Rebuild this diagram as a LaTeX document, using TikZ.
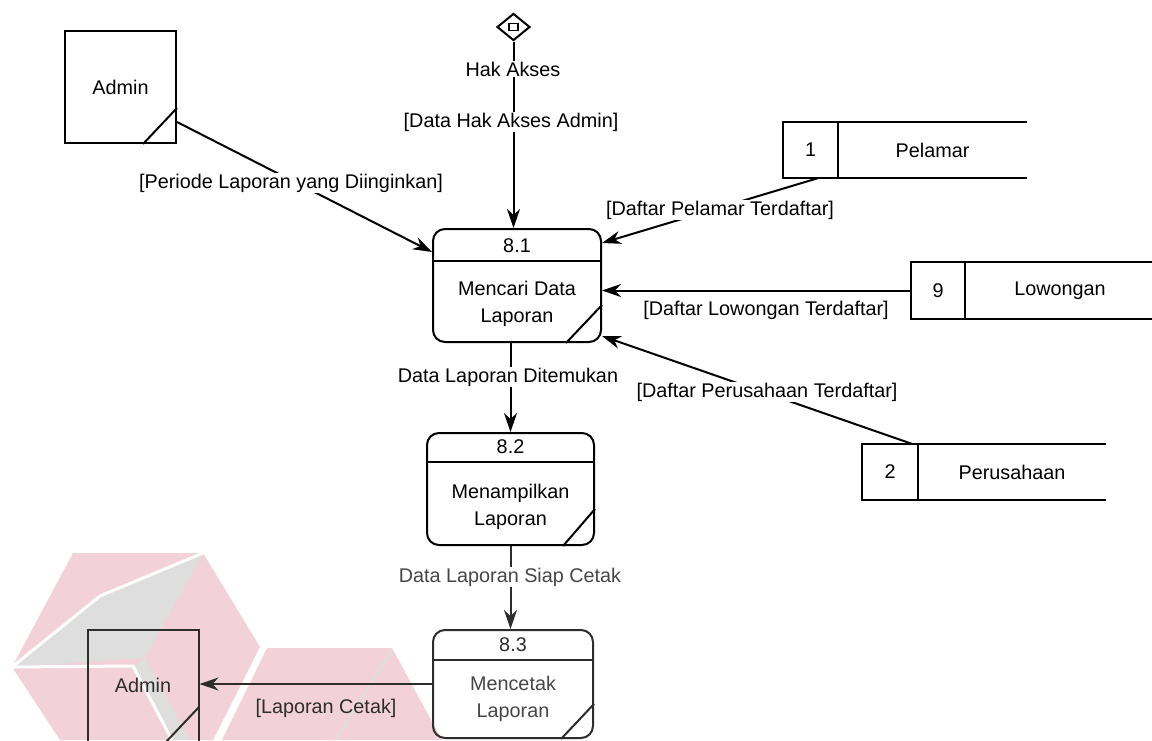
\documentclass[tikz,border=0pt]{standalone}
\usepackage{fontspec}
\setmainfont{Liberation Sans}
\usetikzlibrary{shapes.geometric,arrows.meta,calc}
\definecolor{wmpink}{RGB}{242,210,216}
\definecolor{wmgray}{RGB}{222,222,222}
\definecolor{cdark}{RGB}{45,45,45}
\definecolor{ctext}{RGB}{70,70,70}
\begin{document}
\begin{tikzpicture}[x=1pt,y=-1pt,
  every node/.style={font=\fontsize{19.8}{27}\selectfont},
  ln/.style={line width=2pt},
  flow/.style={line width=2pt,-{Stealth[length=19pt,width=13pt,inset=6pt]}},
  lbl/.style={fill=white,inner sep=1pt},
  lblclear/.style={inner sep=1pt},
  proc/.style={draw,line width=2pt,rounded corners=12pt,inner sep=0pt},
  ent/.style={draw,line width=2pt,inner sep=0pt,minimum width=111pt,minimum height=112pt},
  store/.style={inner sep=0pt,minimum width=244pt,minimum height=56pt},
]
\clip (0,0) rectangle (1152,740);
\fill[white] (0,0) rectangle (1152,740);

% watermark
\fill[wmpink] (73,553) -- (203,553) -- (260,647) -- (213,740) -- (60,740) -- (12,667) -- cycle;
\fill[wmgray] (12,667) -- (100,598) -- (203,553) -- (145,658) -- cycle;
\fill[wmgray] (133,666) -- (145,658) -- (190,740) -- (172,740) -- cycle;
\draw[white,line width=3pt] (12,667) -- (100,596) -- (203,553);
\draw[white,line width=3pt] (12,667) -- (133,666) -- (172,740);
\fill[wmpink] (267,648) -- (392,648) -- (442,740) -- (222,740) -- cycle;
\draw[wmgray,line width=2pt] (392,650) -- (335,740);

% external entities
\node[ent] (a1) at (120.5,87) {Admin};
\draw[ln] ([xshift=-34pt]a1.south east) -- ([yshift=36pt]a1.south east);
\node[ent,draw=cdark,text=cdark] (a2) at (143,685.5) {Admin};
\draw[ln,cdark] ([xshift=-34pt]a2.south east) -- ([yshift=36pt]a2.south east);

% access diamond
\node[diamond,draw,line width=2pt,minimum width=33pt,minimum height=27pt,inner sep=0pt] (ha) at (513.5,27) {};
\node[draw,line width=1.5pt,minimum width=9pt,minimum height=7pt,inner sep=0pt] (hab) at (ha) {};

% processes
\node[proc,minimum width=168pt,minimum height=113pt] (p1) at (517,285.5) {};
\draw[ln] ([yshift=-33pt]p1.north west) -- ([yshift=-33pt]p1.north east);
\draw[ln] ([xshift=-36pt]p1.south east) -- ([yshift=38pt]p1.south east);
\node (p1n) at (517,245.5) {8.1};
\node[align=center] (p1t) at (517,303.5) {Mencari Data\\Laporan};

\node[proc,minimum width=167pt,minimum height=112pt] (p2) at (510.5,489) {};
\draw[ln] ([yshift=-30pt]p2.north west) -- ([yshift=-30pt]p2.north east);
\draw[ln] ([xshift=-32pt]p2.south east) -- ([yshift=37pt]p2.south east);
\node (p2n) at (510.5,447) {8.2};
\node[align=center] (p2t) at (510.5,506.5) {Menampilkan\\Laporan};

\node[proc,draw=cdark,minimum width=160pt,minimum height=108pt] (p3) at (513,684) {};
\draw[ln,cdark] ([yshift=-31pt]p3.north west) -- ([yshift=-31pt]p3.north east);
\draw[ln,cdark] ([xshift=-33pt]p3.south east) -- ([yshift=35pt]p3.south east);
\node[text=cdark] (p3n) at (513,645) {8.3};
\node[align=center,text=ctext] (p3t) at (513,698.5) {Mencetak\\Laporan};

% data stores
\node[store] (s1) at (905,150) {};
\draw[ln] (s1.north east) -- (s1.north west) -- (s1.south west) -- (s1.south east);
\draw[ln] ([xshift=55pt]s1.north west) -- ([xshift=55pt]s1.south west);
\node (s1n) at (810.5,150) {1};
\node (s1t) at (932.5,150) {Pelamar};

\node[store] (s2) at (1033,290.5) {};
\draw[ln] (s2.north east) -- (s2.north west) -- (s2.south west) -- (s2.south east);
\draw[ln] ([xshift=54pt]s2.north west) -- ([xshift=54pt]s2.south west);
\node (s2n) at (938,290.5) {9};
\node (s2t) at (1060,290.5) {Lowongan};

\node[store] (s3) at (984,472) {};
\draw[ln] (s3.north east) -- (s3.north west) -- (s3.south west) -- (s3.south east);
\draw[ln] ([xshift=56pt]s3.north west) -- ([xshift=56pt]s3.south west);
\node (s3n) at (890,472) {2};
\node (s3t) at (1012,472) {Perusahaan};

% flows
\draw[flow] (ha.south) -- (ha.south |- p1.north);
\node[lbl] (l0) at (513,69) {Hak Akses};
\node[lbl] (l1) at (511,122) {[Data Hak Akses Admin]};

\draw[flow] ([yshift=-35pt]a1.east) -- ([yshift=33.5pt]p1.west);
\node[lbl] (l2) at (291,183) {[Periode Laporan yang Diinginkan]};

\draw[flow] ([xshift=35pt]s1.south west) -- ([yshift=42.5pt]p1.east);
\node[lbl] (l3) at (720,210) {[Daftar Pelamar Terdaftar]};

\draw[flow] (s2.west) -- (s2.west -| p1.east);
\node[lbl] (l4) at (766,310) {[Daftar Lowongan Terdaftar]};

\draw[flow] ([xshift=50pt]s3.north west) -- ([yshift=-50.5pt]p1.east);
\node[lbl] (l5) at (767,392) {[Daftar Perusahaan Terdaftar]};

\draw[flow] (p2.north |- p1.south) -- (p2.north);
\node[lbl] (l6) at (508,377) {Data Laporan Ditemukan};

\draw[flow,cdark] (p2.south) -- (p2.south |- p3.north);
\node[lbl,text=ctext] (l7) at (510,577) {Data Laporan Siap Cetak};

\draw[flow,cdark] (p3.west) -- (p3.west -| a2.east);
\node[lblclear,text=cdark] (l8) at (326,708) {[Laporan Cetak]};
\end{tikzpicture}
\end{document}
